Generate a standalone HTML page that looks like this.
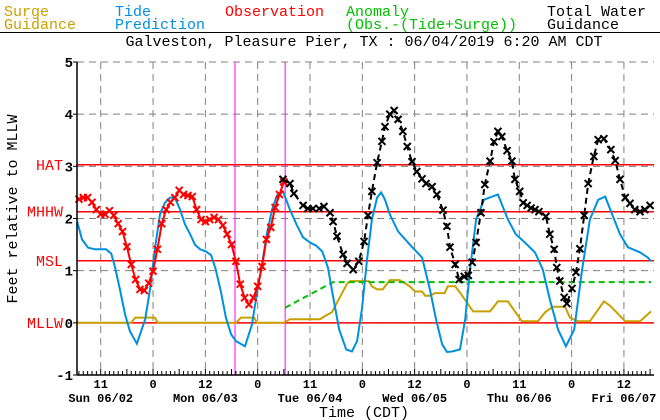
<!DOCTYPE html>
<html><head><meta charset="utf-8"><style>
body{margin:0;background:#fff;width:660px;height:420px;overflow:hidden}
svg{display:block;font-family:"Liberation Mono",monospace}
</style></head><body>
<svg id="chart" width="660" height="420" xmlns="http://www.w3.org/2000/svg">
<g font-size="15">
<text x="4" y="16" fill="#c8a000">Surge<tspan x="4" y="29">Guidance</tspan></text>
<text x="115" y="16" fill="#0090e0">Tide<tspan x="115" y="29">Prediction</tspan></text>
<text x="225" y="16" fill="#ff0000">Observation</text>
<text x="346" y="16" fill="#00c000">Anomaly<tspan x="346" y="29">(Obs.-(Tide+Surge))</tspan></text>
<text x="547" y="16" fill="#000">Total Water<tspan x="547" y="29">Guidance</tspan></text>
</g>
<line x1="0" y1="32.5" x2="660" y2="32.5" stroke="#000" stroke-width="1"/>
<text x="364" y="46" font-size="15" text-anchor="middle">Galveston, Pleasure Pier, TX : 06/04/2019 6:20 AM CDT</text>
<text transform="translate(17,209) rotate(-90)" font-size="15" text-anchor="middle">Feet relative to MLLW</text>
<text x="364" y="417" font-size="15" text-anchor="middle">Time (CDT)</text>
<g id="grid"></g><g id="series"></g><g id="axes"></g>
</svg>
<script>
const yTicks=[-1,0,1,2,3,4,5];
const datumNames=["HAT","MHHW","MSL","MLLW"];
const datumValues=[3.03,2.13,1.19,0];
const gridHours=[12,24,36,48,60,72,84,96,108,120,132];
const gridLabels=["11","0","12","0","11","0","12","0","11","0","12"];
const dayNames=["Sun 06/02","Mon 06/03","Tue 06/04","Wed 06/05","Thu 06/06","Fri 06/07"];
const dayHours=[12,36,60,84,108,132];
const nowLines=[42.8,54.3];
const obsStart=7;
const obsValues=[2.37,2.4,2.4,2.31,2.17,2.08,2.08,2.15,2.06,1.9,1.75,1.46,1.12,0.83,0.64,0.62,0.76,0.99,1.41,1.9,2.17,2.31,2.4,2.54,2.46,2.44,2.42,2.17,1.98,1.94,1.98,2.02,1.98,1.87,1.7,1.5,1.18,0.74,0.48,0.35,0.48,0.7,1.08,1.6,1.83,2.21,2.46,2.7];
const tideTimes=[6.6,7.7,9.1,10.7,13.2,14.4,15.3,16.4,17.6,18.7,20.3,22.2,23.3,24.4,25.6,26.7,27.9,29.0,30.2,31.3,32.5,33.6,34.8,36.1,37.3,38.4,39.6,40.7,41.9,43.0,45.1,46.7,47.8,49.0,50.1,51.3,52.4,53.8,55.4,57.0,58.4,60.0,61.4,62.8,64.1,65.3,66.7,68.3,69.6,70.8,71.9,73.1,74.2,75.4,76.3,77.2,78.3,80.2,82.9,85.7,87.5,88.9,90.3,91.4,92.6,94.4,95.6,96.7,98.1,99.9,103.1,105.4,107.2,109.3,111.6,113.4,115.0,116.9,118.7,120.6,122.4,124.2,126.1,127.7,129.3,131.1,132.9,135.7,137.5,138.2];
const tideValues=[1.94,1.6,1.44,1.41,1.41,1.33,1.06,0.64,0.16,-0.16,-0.4,0.07,0.64,1.4,2.08,2.3,2.4,2.4,2.17,1.89,1.7,1.5,1.41,1.37,1.3,1.02,0.58,0.1,-0.22,-0.35,-0.45,-0.03,0.55,1.12,1.7,2.17,2.44,2.52,2.17,1.87,1.64,1.54,1.48,1.37,1.06,0.5,-0.13,-0.51,-0.55,-0.35,0.26,1.22,1.98,2.4,2.5,2.36,2.08,1.75,1.5,1.25,0.64,0.07,-0.41,-0.56,-0.55,-0.51,0.07,1.02,1.98,2.36,2.46,1.98,1.7,1.54,1.35,1.02,0.45,-0.13,-0.45,-0.13,1.02,1.98,2.36,2.42,2.08,1.7,1.45,1.35,1.25,1.18];
const surgeTimes=[6.6,19.0,19.9,24.4,25.1,43.0,44.2,47.2,47.8,54.0,55.4,62.3,63.4,65.0,66.9,68.5,69.2,73.5,74.2,75.4,76.7,78.3,80.6,82.9,84.1,85.7,86.4,87.5,88.7,90.9,91.6,93.3,94.4,97.4,101.3,103.1,105.4,108.6,112.3,113.9,115.7,118.5,119.6,121.5,124.2,127.4,128.8,132.3,135.7,138.2];
const surgeValues=[0,0,0.1,0.1,0,0,0.1,0.1,0,0,0.07,0.07,0.13,0.2,0.5,0.75,0.8,0.8,0.7,0.64,0.64,0.82,0.82,0.7,0.6,0.6,0.52,0.52,0.57,0.57,0.7,0.7,0.58,0.22,0.22,0.41,0.41,0.03,0.03,0.2,0.31,0.31,0.1,0.03,0.03,0.41,0.33,0.03,0.03,0.22];
const anomalyTimes=[54.3,65.3,138.2];
const anomalyValues=[0.29,0.78,0.78];
const totalTimes=[53.8,55.4,56.3,58.4,59.5,60.7,62.1,63.2,64.6,65.3,66.2,67.6,68.5,69.9,71.2,72.4,73.3,74.2,75.4,76.5,77.2,78.3,79.3,80.2,81.3,82.3,83.4,84.5,85.7,86.6,88.0,89.1,90.5,91.4,92.1,93.3,94.2,95.4,96.3,97.2,98.1,99.2,100.1,101.3,102.2,103.1,104.0,105.2,106.3,107.0,108.1,108.9,109.8,110.7,111.6,112.5,114.1,115.0,116.0,116.6,117.3,118.3,118.9,120.1,121.0,121.9,122.9,123.8,125.1,126.1,127.4,129.0,130.0,131.1,132.3,133.4,134.5,135.7,136.8,138.0];
const totalValues=[2.75,2.67,2.48,2.25,2.19,2.19,2.19,2.23,2.11,1.94,1.66,1.31,1.14,1.02,1.18,1.56,2.06,2.52,3.07,3.48,3.76,4.0,4.07,3.9,3.67,3.38,3.09,2.9,2.76,2.67,2.61,2.46,2.16,1.85,1.45,1.12,0.83,0.89,0.91,1.16,1.54,2.11,2.65,3.1,3.47,3.67,3.57,3.3,3.1,2.75,2.52,2.3,2.25,2.2,2.17,2.13,2.04,1.7,1.41,1.06,0.8,0.49,0.37,0.66,0.97,1.42,2.06,2.67,3.19,3.51,3.53,3.32,3.11,2.75,2.4,2.29,2.17,2.13,2.17,2.25];

const L=77,R=654,T=62,B=375;
const X=t=>48.4+4.36*t;
const Y=v=>B-(v+1)*(B-T)/6;
const NS="http://www.w3.org/2000/svg";
function mk(parent,tag,attrs){const e=document.createElementNS(NS,tag);for(const k in attrs)e.setAttribute(k,attrs[k]);parent.appendChild(e);return e;}
const grid=document.getElementById('grid'),ser=document.getElementById('series'),ax=document.getElementById('axes');
yTicks.forEach(v=>{
 if(v>=0){
 const l=mk(grid,'line',{x1:L,x2:R,y1:Y(v),y2:Y(v),stroke:'#808080','stroke-dasharray':'7,5'});
 
 
 }
 const t=mk(ax,'text',{x:L-4,y:Y(v)+5,'text-anchor':'end','font-size':'14','font-weight':'bold'});t.textContent=v;
 
 
});
gridHours.forEach((h,i)=>{
 const l=mk(grid,'line',{x1:X(h),x2:X(h),y1:T,y2:B,stroke:'#808080','stroke-dasharray':'7,5'});
 
 
 const t=mk(ax,'text',{x:X(h),y:388,'text-anchor':'middle','font-size':'12','font-weight':'bold'});t.textContent=gridLabels[i];
 
 
});
dayHours.forEach((h,i)=>{
 const t=mk(ax,'text',{x:X(h),y:402,'text-anchor':'middle','font-size':'12','font-weight':'bold'});t.textContent=dayNames[i];
 
 
});
datumValues.forEach((v,i)=>{
 const l=mk(grid,'line',{x1:L,x2:R,y1:Y(v),y2:Y(v),stroke:'#ff0000','stroke-width':1.5});
 
 
 const t=mk(ax,'text',{x:63,y:Y(v)+5,'text-anchor':'end','font-size':'15',fill:'#ff0000'});t.textContent=datumNames[i];
 
 
});
nowLines.forEach(h=>{
 const l=mk(grid,'line',{x1:X(h),x2:X(h),y1:T,y2:B,stroke:'#ff00ff','stroke-width':1});
 
 
});
function pts(ts,vs){return ts.map((t,i)=>X(t).toFixed(1)+','+Y(vs[i]).toFixed(1)).join(' ');}
let p;
p=mk(ser,'polyline',{points:pts(surgeTimes,surgeValues),fill:'none',stroke:'#c8a000','stroke-width':2});


p=mk(ser,'polyline',{points:pts(anomalyTimes,anomalyValues),fill:'none',stroke:'#00c000','stroke-width':2,'stroke-dasharray':'6,4'});


p=mk(ser,'polyline',{points:pts(tideTimes,tideValues),fill:'none',stroke:'#0090e0','stroke-width':2});


const obsTimes=obsValues.map((v,i)=>obsStart+i);
p=mk(ser,'polyline',{points:pts(obsTimes,obsValues),fill:'none',stroke:'#ff0000','stroke-width':2});


p=mk(ser,'polyline',{points:pts(totalTimes,totalValues),fill:'none',stroke:'#000','stroke-width':2,'stroke-dasharray':'6,4'});


function marks(ts,vs,col,name){ts.forEach((t,i)=>{const x=X(t),y=Y(vs[i]),s=3.5;
 const m=mk(ser,'path',{d:`M${x-s},${y-s}L${x+s},${y+s}M${x-s},${y+s}L${x+s},${y-s}`,stroke:col,'stroke-width':2});
 
 });}
marks(obsTimes,obsValues,'#ff0000','observation-point');
marks(totalTimes,totalValues,'#000','total-water-point');
let a=mk(ax,'line',{x1:L,x2:L,y1:T,y2:B,stroke:'#000','stroke-width':1.5});


a=mk(ax,'line',{x1:L,x2:R,y1:B,y2:B,stroke:'#000','stroke-width':1.5});


yTicks.forEach(v=>{const t=mk(ax,'line',{x1:L-4,x2:L,y1:Y(v),y2:Y(v),stroke:'#000'});
 
 });
for(let h=7;h<=138;h++){const big=h%6===0;const t=mk(ax,'line',{x1:X(h),x2:X(h),y1:B-(big?6:4),y2:B,stroke:'#000'});
 
 }
</script>
</body></html>
